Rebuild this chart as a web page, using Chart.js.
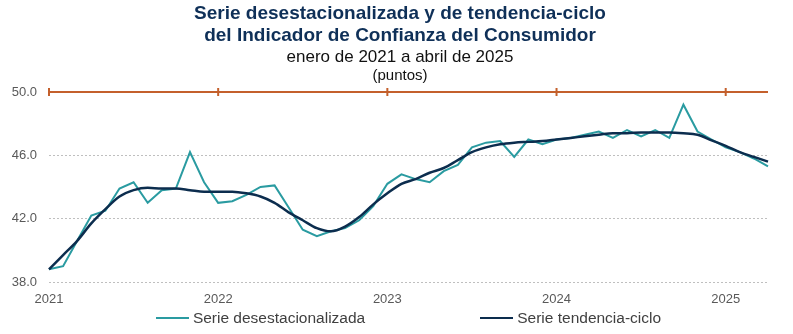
<!DOCTYPE html>
<html lang="es">
<head>
<meta charset="utf-8">
<title>Indicador de Confianza del Consumidor</title>
<script src="https://cdn.jsdelivr.net/npm/chart.js@4/dist/chart.umd.min.js"></script>
<style>
  html, body { margin: 0; padding: 0; background: #ffffff; }
  #wrap { position: relative; width: 793px; height: 334px; }
  #legend {
    position: absolute; left: 49px; width: 719px; top: 309px;
    display: flex; justify-content: center; gap: 115px;
    font-family: "Liberation Sans", Arial, sans-serif; font-size: 15.5px; color: #404040;
  }
  #legend .item { display: flex; align-items: center; white-space: nowrap; }
  #legend .swatch { width: 33px; height: 2px; margin-right: 4px; }
</style>
</head>
<body>
<div id="wrap">
  <canvas id="chart" width="793" height="334"></canvas>
  <div id="legend"></div>
</div>
<script>
// Monthly periods, January 2021 to April 2025
const monthNames = ['ene', 'feb', 'mar', 'abr', 'may', 'jun', 'jul', 'ago', 'sep', 'oct', 'nov', 'dic'];
const years = ['2021', '2022', '2023', '2024', '2025'];
const monthsInLastYear = 4;

const categories = [];
years.forEach((y, yi) => {
  const count = yi === years.length - 1 ? monthsInLastYear : 12;
  for (let m = 0; m < count; m++) categories.push(monthNames[m] + ' ' + y);
});

// Seasonally adjusted series (points)
const seasonallyAdjusted = [
  38.8, 39.0, 40.6, 42.2, 42.5, 43.9, 44.3, 43.0, 43.8, 43.9, 46.2, 44.3,
  43.0, 43.1, 43.5, 44.0, 44.1, 42.7, 41.3, 40.9, 41.2, 41.4, 41.9, 42.8,
  44.2, 44.8, 44.5, 44.3, 45.0, 45.4, 46.5, 46.8, 46.9, 45.9, 47.0, 46.7,
  47.0, 47.1, 47.3, 47.5, 47.1, 47.6, 47.2, 47.6, 47.1, 49.2, 47.5, 47.0,
  46.5, 46.2, 45.8, 45.3
];

// Trend-cycle series (points)
const trendCycle = [
  38.8, 39.7, 40.6, 41.7, 42.6, 43.4, 43.8, 43.95, 43.9, 43.9, 43.8, 43.7,
  43.7, 43.7, 43.6, 43.4, 43.0, 42.4, 41.9, 41.4, 41.2, 41.5, 42.1, 42.9,
  43.6, 44.2, 44.5, 44.9, 45.2, 45.7, 46.2, 46.5, 46.7, 46.8, 46.85, 46.9,
  47.0, 47.1, 47.2, 47.3, 47.4, 47.4, 47.45, 47.45, 47.45, 47.4, 47.3, 46.95,
  46.6, 46.2, 45.9, 45.6
];

// Reference level of the indicator
const referenceLevel = 50;

const seriesNames = ['Serie desestacionalizada', 'Serie tendencia-ciclo'];
const titleLines = ['Serie desestacionalizada y de tendencia-ciclo', 'del Indicador de Confianza del Consumidor'];
const periodLine = 'enero de 2021 a abril de 2025';
const unitsLine = '(puntos)';
const yTicks = [38, 42, 46, 50];

const TEAL = '#2A9BA1';
const NAVY = '#0C2D4E';
const ORANGE = '#C4602C';
const FONT = '"Liberation Sans", Arial, sans-serif';

// Draws the units line just below the subtitle, in a smaller type
const unitsLabel = {
  id: 'unitsLabel',
  afterDraw(chart) {
    const tb = chart.titleBlock;
    const ctx = chart.ctx;
    ctx.save();
    ctx.font = '15px ' + FONT;
    ctx.fillStyle = '#111111';
    ctx.textAlign = 'center';
    ctx.textBaseline = 'middle';
    ctx.fillText(unitsLine, (tb.left + tb.right) / 2, chart.chartArea.top - 16);
    ctx.restore();
  }
};

const chart = new Chart(document.getElementById('chart'), {
  type: 'line',
  data: {
    labels: categories,
    datasets: [
      {
        label: seriesNames[0],
        data: seasonallyAdjusted,
        borderColor: TEAL,
        backgroundColor: TEAL,
        borderWidth: 2,
        pointRadius: 0,
        tension: 0,
        order: 1
      },
      {
        label: seriesNames[1],
        data: trendCycle,
        borderColor: NAVY,
        backgroundColor: NAVY,
        borderWidth: 2.5,
        pointRadius: 0,
        tension: 0.4,
        cubicInterpolationMode: 'monotone',
        order: 0
      },
      {
        label: 'ref',
        data: categories.map(() => referenceLevel),
        borderColor: ORANGE,
        backgroundColor: ORANGE,
        borderWidth: 2,
        pointStyle: 'line',
        rotation: 90,
        pointBorderColor: ORANGE,
        pointBorderWidth: 2,
        pointRadius: ctx => (ctx.dataIndex % 12 === 0 ? 4 : 0),
        tension: 0,
        clip: 8,
        order: 2
      }
    ]
  },
  plugins: [unitsLabel],
  options: {
    responsive: false,
    animation: false,
    events: [],
    layout: { padding: { left: 7, right: 0, top: 0, bottom: 28 } },
    plugins: {
      legend: { display: false },
      tooltip: { enabled: false },
      title: {
        display: true,
        text: titleLines,
        color: '#0F3058',
        font: { family: FONT, size: 19, weight: 'bold', lineHeight: 22 / 19 },
        padding: { top: 3, bottom: 0 }
      },
      subtitle: {
        display: true,
        text: periodLine,
        color: '#111111',
        font: { family: FONT, size: 17, lineHeight: 1.2 },
        padding: { top: 0, bottom: 24.6 }
      }
    },
    scales: {
      x: {
        type: 'category',
        offset: false,
        grid: { display: false, drawTicks: false },
        border: { display: false },
        afterFit: s => { s.height = 24; },
        ticks: {
          autoSkip: false,
          maxRotation: 0,
          padding: 10,
          color: '#595959',
          font: { family: FONT, size: 13 },
          callback: (v, i) => (i % 12 === 0 ? years[i / 12] : '')
        }
      },
      y: {
        min: yTicks[0],
        max: yTicks[yTicks.length - 1],
        afterFit: s => { s.width = 42; },
        afterBuildTicks: s => { s.ticks = yTicks.map(v => ({ value: v })); },
        border: { display: false, dash: [2, 2] },
        grid: { color: '#BFBFBF', lineWidth: 1, drawTicks: false },
        ticks: {
          padding: 12,
          color: '#595959',
          font: { family: FONT, size: 13 },
          callback: v => v.toFixed(1)
        }
      },
      // empty margin on the right side of the plot
      yRight: {
        position: 'right',
        min: yTicks[0],
        max: yTicks[yTicks.length - 1],
        afterFit: s => { s.width = 25; },
        grid: { display: false, drawTicks: false },
        border: { display: false },
        ticks: { display: false }
      }
    }
  }
});

// Legend for the two data series
const legend = document.getElementById('legend');
chart.data.datasets.slice(0, 2).forEach(ds => {
  const item = document.createElement('div');
  item.className = 'item';
  const sw = document.createElement('span');
  sw.className = 'swatch';
  sw.style.background = ds.borderColor;
  const txt = document.createElement('span');
  txt.textContent = ds.label;
  item.appendChild(sw);
  item.appendChild(txt);
  legend.appendChild(item);
});
</script>
</body>
</html>
